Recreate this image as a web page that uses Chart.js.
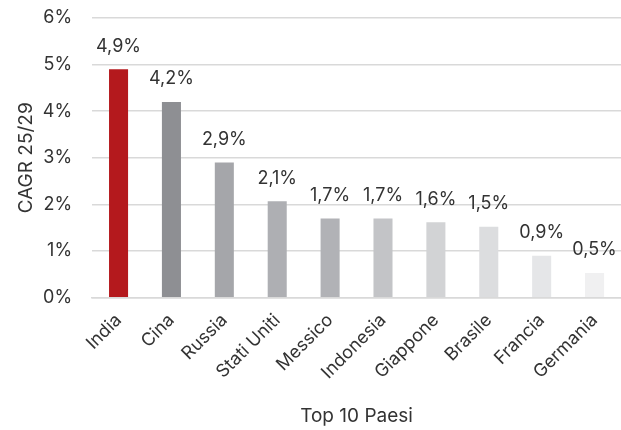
<!DOCTYPE html>
<html>
<head>
<meta charset="utf-8">
<script src="https://cdn.jsdelivr.net/npm/chart.js@4/dist/chart.umd.min.js"></script>
<style>
  html, body { margin: 0; padding: 0; background: #fff; }
  #wrap { width: 621px; height: 430px; }
</style>
</head>
<body>
<div id="wrap"><canvas id="myChart"></canvas></div>
<script>
var paesi = ['India', 'Cina', 'Russia', 'Stati Uniti', 'Messico', 'Indonesia', 'Giappone', 'Brasile', 'Francia', 'Germania'];
var cagr = [4.9, 4.2, 2.9, 2.07, 1.7, 1.7, 1.62, 1.52, 0.9, 0.53];
var colori = ['#B4191D', '#8E8F93', '#A5A6AA', '#AEAFB3', '#B1B2B6', '#C3C4C7', '#D2D3D5', '#DCDDDF', '#E5E6E8', '#F0F0F1'];

var FONT = 'Inter';

// labels above the bars, italian decimal comma
var etichette = {
    id: 'etichette',
    afterDatasetsDraw: function(chart) {
        var ctx = chart.ctx;
        var meta = chart.getDatasetMeta(0);
        ctx.save();
        ctx.font = '18px ' + FONT;
        ctx.fillStyle = '#333';
        ctx.textAlign = 'center';
        ctx.textBaseline = 'middle';
        meta.data.forEach(function(bar, i) {
            var txt = cagr[i].toFixed(1).replace('.', ',') + '%';
            ctx.fillText(txt, bar.x, bar.y - 23);
        });
        ctx.restore();
    }
};

var ctx = document.getElementById('myChart').getContext('2d');
var chart = new Chart(ctx, {
    type: 'bar',
    data: {
        labels: paesi,
        datasets: [{
            data: cagr,
            backgroundColor: colori,
            barPercentage: 0.36,
            categoryPercentage: 1
        }]
    },
    options: {
        responsive: true,
        maintainAspectRatio: false,
        animation: false,
        layout: { padding: { top: 18, right: 0, left: 15, bottom: 2 } },
        plugins: {
            legend: { display: false },
            tooltip: { enabled: false }
        },
        scales: {
            y: {
                min: 0,
                max: 6,
                ticks: {
                    stepSize: 1,
                    padding: 0,
                    color: '#333',
                    font: { family: FONT, size: 18 },
                    callback: function(v) { return v + '%'; }
                },
                // invisible tick marks give the gap between labels and grid
                grid: { color: '#D9D9D9', lineWidth: 1.5, drawTicks: true, tickLength: 20, tickColor: 'rgba(0,0,0,0)' },
                border: { display: false },
                title: {
                    display: true,
                    text: 'CAGR 25/29',
                    color: '#333',
                    font: { family: FONT, size: 19 },
                    padding: { top: 0, bottom: 5 }
                }
            },
            x: {
                ticks: {
                    minRotation: 45,
                    maxRotation: 45,
                    color: '#333',
                    padding: 4,
                    font: { family: FONT, size: 18 }
                },
                grid: { display: false },
                border: { color: '#D9D9D9', width: 1.5 },
                title: {
                    display: true,
                    text: 'Top 10 Paesi',
                    color: '#333',
                    font: { family: FONT, size: 19 },
                    padding: { top: 18, bottom: 0 }
                }
            }
        }
    },
    plugins: [etichette]
});
</script>
</body>
</html>
